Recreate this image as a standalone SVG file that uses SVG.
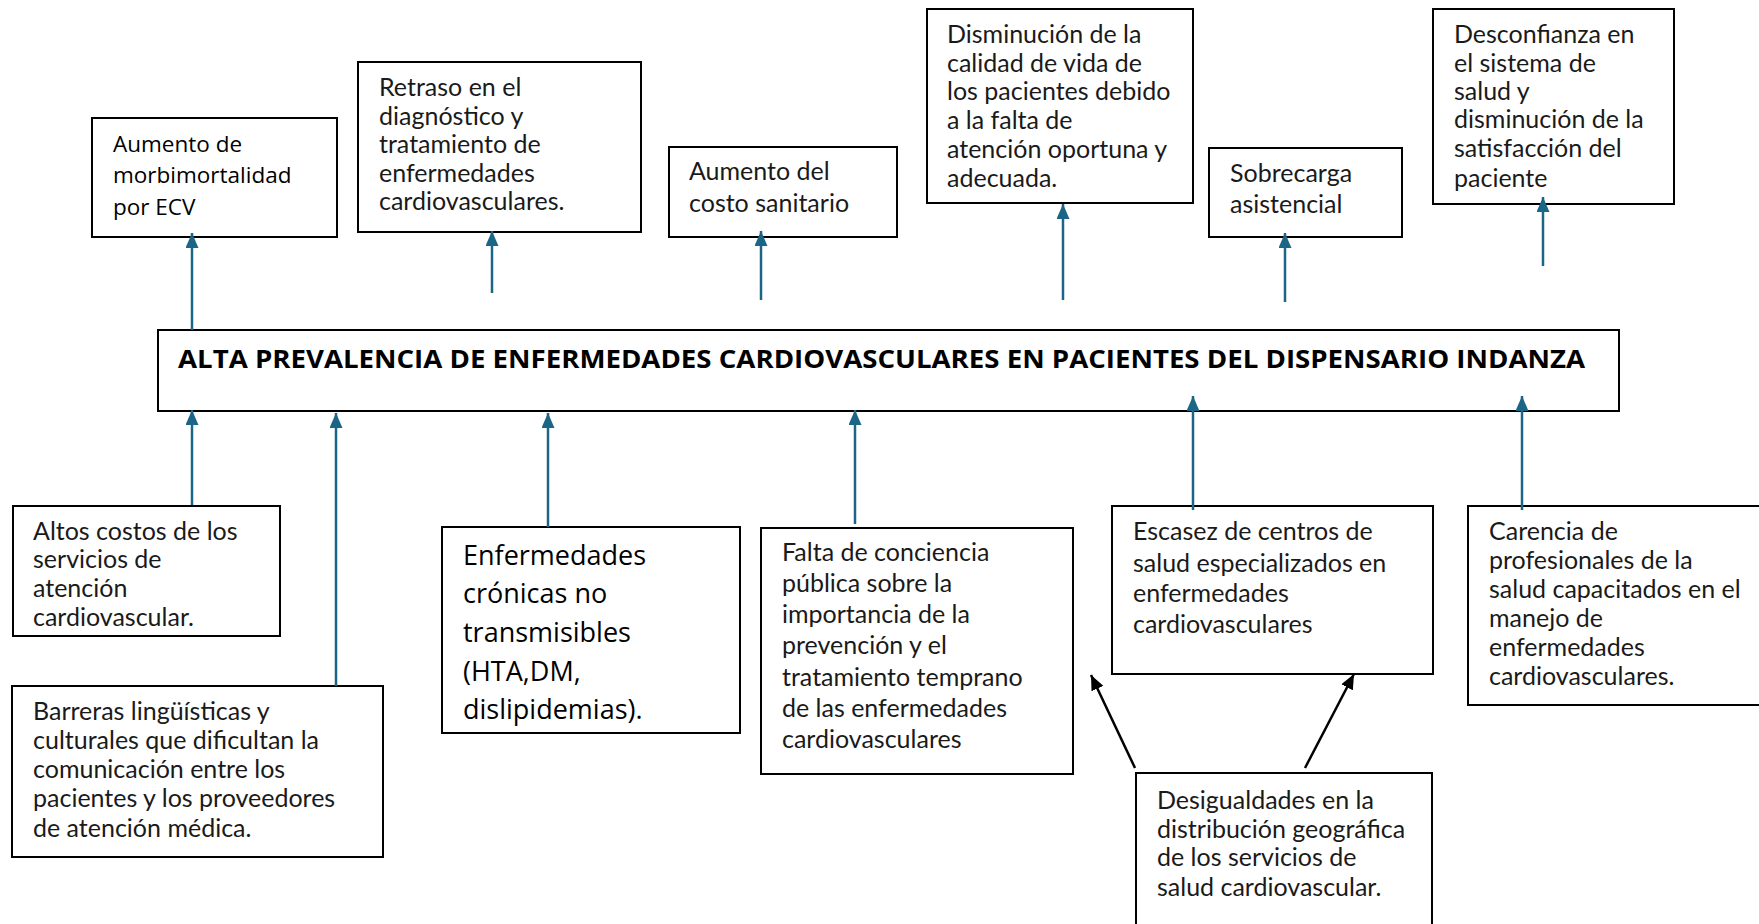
<svg xmlns="http://www.w3.org/2000/svg" width="1759" height="924" viewBox="0 0 1759 924">
<style>
.box{fill:#fff;stroke:#000;stroke-width:2}
.t{font-family:Lato,"Open Sans",sans-serif;font-size:25px;fill:#1a1a1a}
.a{font-family:"Open Sans","Noto Sans",sans-serif;font-size:22.5px;fill:#000}
.big{font-size:27px}
.title{font-family:"Open Sans","Liberation Sans",sans-serif;font-size:25px;font-weight:bold;fill:#000}
.teal{stroke:#1b6586;stroke-width:2.5;fill:none}
.blk{stroke:#000;stroke-width:2.5;fill:none}
</style>
<defs>
<marker id="ah" markerUnits="userSpaceOnUse" markerWidth="15" markerHeight="13" refX="15" refY="6.5" orient="auto" viewBox="0 0 15 13"><path d="M0,0 L15,6.5 L0,13 z" fill="#1b6586"/></marker>
<marker id="ahb" markerUnits="userSpaceOnUse" markerWidth="15" markerHeight="13" refX="15" refY="6.5" orient="auto" viewBox="0 0 15 13"><path d="M0,0 L15,6.5 L0,13 z" fill="#000"/></marker>
</defs>
<rect width="1759" height="924" fill="#fff"/>

<g id="main">
<rect class="box" x="158" y="330" width="1461" height="81"/>
<text class="title" x="178" y="368" textLength="1407" lengthAdjust="spacingAndGlyphs">ALTA PREVALENCIA DE ENFERMEDADES CARDIOVASCULARES EN PACIENTES DEL DISPENSARIO INDANZA</text>
</g>

<g id="e1">
<rect class="box" x="92" y="118" width="245" height="119"/>
<text class="a"><tspan x="113" y="152">Aumento de</tspan><tspan x="113" y="183">morbimortalidad</tspan><tspan x="113" y="215">por ECV</tspan></text>
</g>
<g id="e2">
<rect class="box" x="358" y="62" width="283" height="170"/>
<text class="t"><tspan x="379" y="96">Retraso en el</tspan><tspan x="379" y="125">diagnóstico y</tspan><tspan x="379" y="153">tratamiento de</tspan><tspan x="379" y="182">enfermedades</tspan><tspan x="379" y="210">cardiovasculares.</tspan></text>
</g>
<g id="e3">
<rect class="box" x="669" y="147" width="228" height="90"/>
<text class="t"><tspan x="689" y="180">Aumento del</tspan><tspan x="689" y="212">costo sanitario</tspan></text>
</g>
<g id="e4">
<rect class="box" x="927" y="9" width="266" height="194"/>
<text class="t"><tspan x="947" y="43">Disminución de la</tspan><tspan x="947" y="72">calidad de vida de</tspan><tspan x="947" y="100">los pacientes debido</tspan><tspan x="947" y="129">a la falta de</tspan><tspan x="947" y="158">atención oportuna y</tspan><tspan x="947" y="187">adecuada.</tspan></text>
</g>
<g id="e5">
<rect class="box" x="1209" y="148" width="193" height="89"/>
<text class="t"><tspan x="1230" y="182">Sobrecarga</tspan><tspan x="1230" y="213">asistencial</tspan></text>
</g>
<g id="e6">
<rect class="box" x="1433" y="9" width="241" height="195"/>
<text class="t"><tspan x="1454" y="43">Desconfianza en</tspan><tspan x="1454" y="72">el sistema de</tspan><tspan x="1454" y="100">salud y</tspan><tspan x="1454" y="128">disminución de la</tspan><tspan x="1454" y="157">satisfacción del</tspan><tspan x="1454" y="187">paciente</tspan></text>
</g>

<g id="c1">
<rect class="box" x="13" y="506" width="267" height="130"/>
<text class="t"><tspan x="33" y="540">Altos costos de los</tspan><tspan x="33" y="568">servicios de</tspan><tspan x="33" y="597">atención</tspan><tspan x="33" y="626">cardiovascular.</tspan></text>
</g>
<g id="c2">
<rect class="box" x="12" y="686" width="371" height="171"/>
<text class="t"><tspan x="33" y="720">Barreras lingüísticas y</tspan><tspan x="33" y="749">culturales que dificultan la</tspan><tspan x="33" y="778">comunicación entre los</tspan><tspan x="33" y="807">pacientes y los proveedores</tspan><tspan x="33" y="837">de atención médica.</tspan></text>
</g>
<g id="c3">
<rect class="box" x="442" y="527" width="298" height="206"/>
<text class="a big"><tspan x="463" y="565">Enfermedades</tspan><tspan x="463" y="603">crónicas no</tspan><tspan x="463" y="642">transmisibles</tspan><tspan x="463" y="681">(HTA,DM,</tspan><tspan x="463" y="719">dislipidemias).</tspan></text>
</g>
<g id="c4">
<rect class="box" x="761" y="528" width="312" height="246"/>
<text class="t"><tspan x="782" y="561">Falta de conciencia</tspan><tspan x="782" y="592">pública sobre la</tspan><tspan x="782" y="623">importancia de la</tspan><tspan x="782" y="654">prevención y el</tspan><tspan x="782" y="686">tratamiento temprano</tspan><tspan x="782" y="717">de las enfermedades</tspan><tspan x="782" y="748">cardiovasculares</tspan></text>
</g>
<g id="c5">
<rect class="box" x="1112" y="506" width="321" height="168"/>
<text class="t"><tspan x="1133" y="540">Escasez de centros de</tspan><tspan x="1133" y="572">salud especializados en</tspan><tspan x="1133" y="602">enfermedades</tspan><tspan x="1133" y="633">cardiovasculares</tspan></text>
</g>
<g id="c6">
<rect class="box" x="1468" y="506" width="310" height="199"/>
<text class="t"><tspan x="1489" y="540">Carencia de</tspan><tspan x="1489" y="569">profesionales de la</tspan><tspan x="1489" y="598">salud capacitados en el</tspan><tspan x="1489" y="627">manejo de</tspan><tspan x="1489" y="656">enfermedades</tspan><tspan x="1489" y="685">cardiovasculares.</tspan></text>
</g>
<g id="c7">
<rect class="box" x="1136" y="773" width="296" height="170"/>
<text class="t"><tspan x="1157" y="809">Desigualdades en la</tspan><tspan x="1157" y="838">distribución geográfica</tspan><tspan x="1157" y="866">de los servicios de</tspan><tspan x="1157" y="896">salud cardiovascular.</tspan></text>
</g>

<g id="connectors">
<line class="teal" x1="192" y1="330" x2="192" y2="233" marker-end="url(#ah)"/>
<line class="teal" x1="492" y1="293" x2="492" y2="231" marker-end="url(#ah)"/>
<line class="teal" x1="761" y1="300" x2="761" y2="231" marker-end="url(#ah)"/>
<line class="teal" x1="1063" y1="300" x2="1063" y2="204" marker-end="url(#ah)"/>
<line class="teal" x1="1285" y1="302" x2="1285" y2="233" marker-end="url(#ah)"/>
<line class="teal" x1="1543" y1="266" x2="1543" y2="197" marker-end="url(#ah)"/>
<line class="teal" x1="192" y1="505" x2="192" y2="410" marker-end="url(#ah)"/>
<line class="teal" x1="336" y1="686" x2="336" y2="413" marker-end="url(#ah)"/>
<line class="teal" x1="548" y1="527" x2="548" y2="413" marker-end="url(#ah)"/>
<line class="teal" x1="855" y1="524" x2="855" y2="410" marker-end="url(#ah)"/>
<line class="teal" x1="1193" y1="510" x2="1193" y2="396" marker-end="url(#ah)"/>
<line class="teal" x1="1522" y1="510" x2="1522" y2="396" marker-end="url(#ah)"/>
<line class="blk" x1="1135" y1="768" x2="1091" y2="675" marker-end="url(#ahb)"/>
<line class="blk" x1="1305" y1="768" x2="1354" y2="674" marker-end="url(#ahb)"/>
</g>
</svg>
